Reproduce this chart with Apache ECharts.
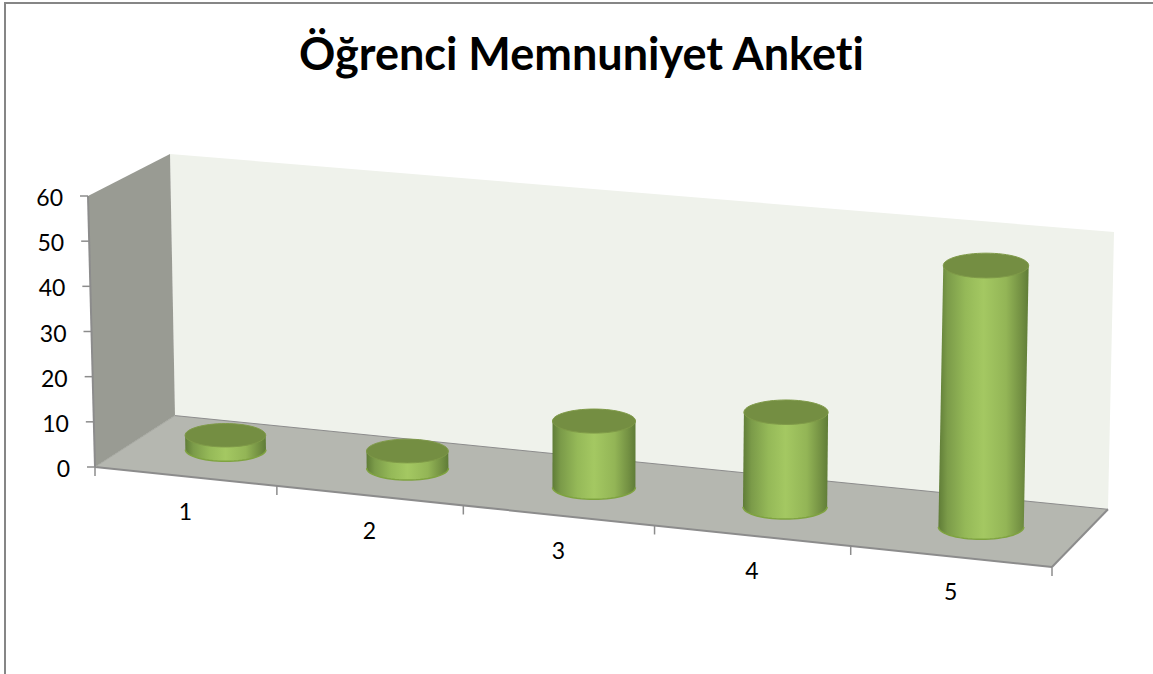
<!DOCTYPE html>
<html>
<head>
<meta charset="utf-8">
<title>Öğrenci Memnuniyet Anketi</title>
<style>
html, body { margin: 0; padding: 0; background: #fff; }
#chart { width: 1153px; height: 674px; }
#chart text { font-variant-ligatures: none; }
</style>
<script src="https://cdn.jsdelivr.net/npm/echarts@6/dist/echarts.min.js"></script>
</head>
<body>
<div id="chart"></div>
<script>
var categories = ['1', '2', '3', '4', '5'];
var memnuniyet = [3.2, 3.8, 14.5, 20.5, 56];
var yTicks = [0, 10, 20, 30, 40, 50, 60];

var gridBox = {left: 95, top: 196, width: 957, height: 271};

// corners of the box on screen: front-left, front-right, back-right, back-left
var floorQuad = [[95, 467], [1052, 567], [1108, 509.3], [175, 415.6]];
var roofQuad = [[88, 196], [1059, 281], [1114, 232], [170, 154]];
var barDepth = 0.51;

var floorMap = squareToQuad(floorQuad);

function squareToQuad(q) {
    var dx1 = q[1][0] - q[2][0], dx2 = q[3][0] - q[2][0], sx = q[0][0] - q[1][0] + q[2][0] - q[3][0];
    var dy1 = q[1][1] - q[2][1], dy2 = q[3][1] - q[2][1], sy = q[0][1] - q[1][1] + q[2][1] - q[3][1];
    var det = dx1 * dy2 - dx2 * dy1;
    var g = (sx * dy2 - dx2 * sy) / det;
    var h = (dx1 * sy - sx * dy1) / det;
    return [q[1][0] - q[0][0] + g * q[1][0], q[3][0] - q[0][0] + h * q[3][0], q[0][0],
            q[1][1] - q[0][1] + g * q[1][1], q[3][1] - q[0][1] + h * q[3][1], q[0][1], g, h];
}

function applyMap(m, u, d) {
    var w = m[6] * u + m[7] * d + 1;
    return [(m[0] * u + m[1] * d + m[2]) / w, (m[3] * u + m[4] * d + m[5]) / w];
}

// u across, d into the picture, h up, all 0..1
function project(u, d, h) {
    var a = applyMap(floorMap, u, d);
    var w = [(1 - u) * (1 - d), u * (1 - d), u * d, (1 - u) * d];
    var up = [0, 0];
    for (var i = 0; i < 4; i++) {
        up[0] += w[i] * (roofQuad[i][0] - floorQuad[i][0]);
        up[1] += w[i] * (roofQuad[i][1] - floorQuad[i][1]);
    }
    return [a[0] + up[0] * h, a[1] + up[1] * h];
}

function lineEl(p, q, color, width) {
    return {
        type: 'line',
        shape: {x1: p[0], y1: p[1], x2: q[0], y2: q[1]},
        style: {stroke: color, lineWidth: width}
    };
}

function quadEl(points, fill) {
    return {type: 'polygon', shape: {points: points}, style: {fill: fill}};
}

function labelEl(text, x, y, align) {
    return {
        type: 'text',
        style: {
            text: text, x: x, y: y, align: align, verticalAlign: 'middle',
            fill: '#000', fontFamily: 'Lato', fontSize: 23
        }
    };
}

function renderFrame(params, api) {
    var kids = [];
    var axisColor = '#8c8c8c';
    var fl = project(0, 0, 0), fr = project(1, 0, 0), br = project(1, 1, 0), bl = project(0, 1, 0);
    var tl = project(0, 0, 1), tbl = project(0, 1, 1), tbr = project(1, 1, 1);

    kids.push(quadEl([bl, br, tbr, tbl], '#eff2eb'));
    kids.push(quadEl([fl, bl, tbl, tl], '#999b93'));
    kids.push(quadEl([fl, fr, br, bl], '#b5b7b0'));

    kids.push(lineEl(bl, br, axisColor, 1));
    kids.push(lineEl(fl, fr, axisColor, 2));
    kids.push(lineEl(fr, br, axisColor, 2));
    kids.push(lineEl(fl, bl, '#a6a8a1', 1));
    kids.push(lineEl(fl, tl, axisColor, 2));

    yTicks.forEach(function (t) {
        var h = (gridBox.top + gridBox.height - api.coord([0, t])[1]) / gridBox.height;
        var p = project(0, 0, h);
        kids.push(lineEl([p[0] - 8, p[1]], p, axisColor, 1.5));
        kids.push(labelEl(String(t), p[0] - 25, p[1] + 1, 'right'));
    });

    for (var i = 0; i <= categories.length; i++) {
        var p = project(i / categories.length, 0, 0);
        kids.push(lineEl(p, [p[0], p[1] + 9], axisColor, 1.5));
    }
    categories.forEach(function (c, i) {
        var u = (api.coord([i, 0])[0] - gridBox.left) / gridBox.width;
        var p = project(u, 0, 0);
        kids.push(labelEl(c, p[0], p[1] + 34.5, 'center'));
    });
    return {type: 'group', children: kids};
}

function renderBar(params, api) {
    var pt = api.coord([api.value(0), api.value(1)]);
    var u = (pt[0] - gridBox.left) / gridBox.width;
    var h = (gridBox.top + gridBox.height - pt[1]) / gridBox.height;
    var base = project(u, barDepth, 0);
    var top = project(u, barDepth, h);
    var rx = 40 + 3 * u;
    var ry = rx * 0.29;

    var body = [[top[0] - rx, top[1]]];
    var rim = [];
    for (var a = 180; a >= 0; a -= 6) {
        var r = a * Math.PI / 180;
        rim.push([base[0] + rx * Math.cos(r), base[1] + ry * Math.sin(r)]);
    }
    body = body.concat(rim);
    body.push([top[0] + rx, top[1]]);

    return {
        type: 'group',
        children: [{
            type: 'polygon',
            shape: {points: body},
            style: {
                fill: new echarts.graphic.LinearGradient(0, 0, 1, 0, [
                    {offset: 0, color: '#5f7c37'},
                    {offset: 0.1, color: '#7b9b49'},
                    {offset: 0.3, color: '#95b958'},
                    {offset: 0.5, color: '#a4c862'},
                    {offset: 0.75, color: '#93b556'},
                    {offset: 0.92, color: '#728f42'},
                    {offset: 1, color: '#5f7c37'}
                ])
            }
        }, {
            type: 'polyline',
            shape: {points: rim},
            style: {stroke: '#7fa340', lineWidth: 1.5, fill: null}
        }, {
            type: 'ellipse',
            shape: {cx: top[0], cy: top[1], rx: rx, ry: ry},
            style: {fill: '#748e42', stroke: '#7f9a48', lineWidth: 1}
        }]
    };
}

var chart = echarts.init(document.getElementById('chart'), null, {renderer: 'svg'});
chart.setOption({
    animation: false,
    backgroundColor: '#fff',
    title: {
        text: 'Öğrenci Memnuniyet Anketi',
        left: 576.5,
        top: 25,
        textAlign: 'center',
        textStyle: {fontFamily: 'Lato', fontWeight: 'bold', fontSize: 45, color: '#000'}
    },
    graphic: [{
        type: 'polyline',
        silent: true,
        shape: {points: [[5, 674], [5, 3], [1153, 3]]},
        style: {stroke: '#868686', lineWidth: 2, fill: null}
    }],
    grid: gridBox,
    xAxis: {type: 'category', data: categories, show: false},
    yAxis: {type: 'value', min: 0, max: 60, interval: 10, show: false},
    series: [{
        type: 'custom',
        name: 'frame',
        silent: true,
        renderItem: renderFrame,
        data: [0],
        z: 1
    }, {
        type: 'custom',
        name: 'Memnuniyet',
        renderItem: renderBar,
        encode: {x: 0, y: 1},
        data: memnuniyet.map(function (v, i) { return [i, v]; }),
        z: 2
    }]
});
</script>
</body>
</html>
